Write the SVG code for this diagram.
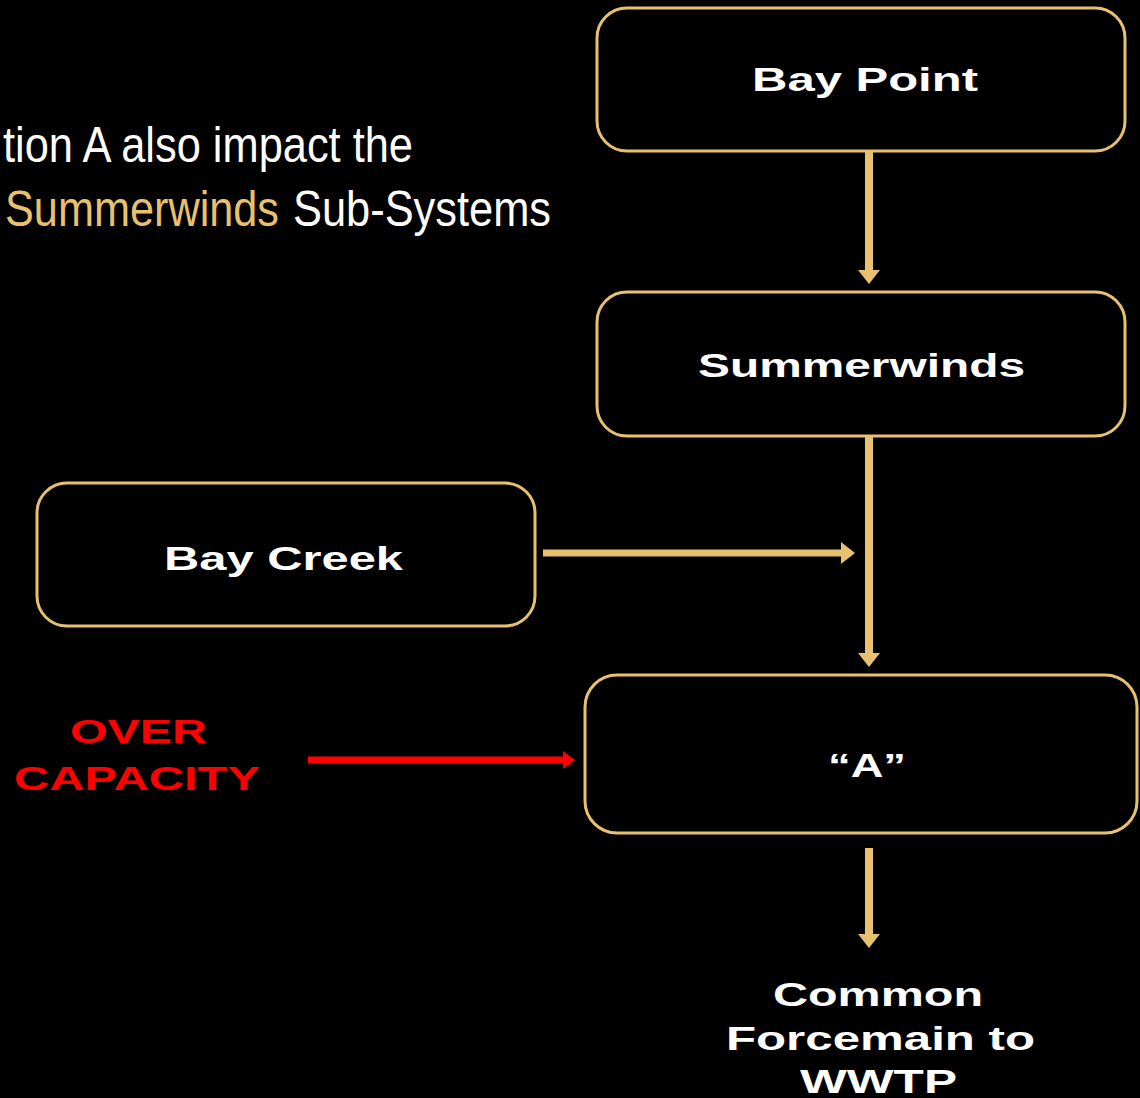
<svg xmlns="http://www.w3.org/2000/svg" width="1140" height="1098" viewBox="0 0 1140 1098">
<defs>
<style>
.box{fill:#000;stroke:#E8C170;stroke-width:3}
.lbl{font-family:"Liberation Sans",Arial,sans-serif;font-weight:bold;font-size:34px;fill:#fff;text-anchor:start}
.red{fill:#FF0000}
.head{font-family:"Liberation Sans Narrow","Liberation Sans",Arial,sans-serif;font-size:50px;fill:#fff}
.gold{fill:#E8C170}
.gl{stroke:#E8C170;fill:none}
</style>
<marker id="ag" markerUnits="userSpaceOnUse" markerWidth="30" markerHeight="30" refX="2" refY="14" orient="auto" viewBox="0 0 30 30">
<path d="M0,3 L14,14 L0,25 Z" fill="#E8C170"/>
</marker>
<marker id="ar" markerUnits="userSpaceOnUse" markerWidth="30" markerHeight="30" refX="2" refY="14" orient="auto" viewBox="0 0 30 30">
<path d="M0,5 L12,14 L0,23 Z" fill="#FF0000"/>
</marker>
</defs>
<rect width="1140" height="1098" fill="#000"/>
<g id="title">
<text class="head" x="3" y="162" textLength="410" lengthAdjust="spacingAndGlyphs">tion A also impact the</text>
<text class="head gold" x="5" y="226" textLength="274" lengthAdjust="spacingAndGlyphs">Summerwinds</text>
<text class="head" x="293" y="226" textLength="258" lengthAdjust="spacingAndGlyphs">Sub-Systems</text>
</g>
<g id="connectors">
<line class="gl" x1="869" y1="151" x2="869" y2="272" stroke-width="8" marker-end="url(#ag)"/>
<line class="gl" x1="869" y1="436" x2="869" y2="655" stroke-width="8" marker-end="url(#ag)"/>
<line class="gl" x1="543" y1="553" x2="843" y2="553" stroke-width="7" marker-end="url(#ag)"/>
<line class="gl" x1="869" y1="848" x2="869" y2="936" stroke-width="8" marker-end="url(#ag)"/>
<line x1="308" y1="760" x2="565" y2="760" stroke="#FF0000" stroke-width="7" marker-end="url(#ar)"/>
</g>
<g id="bay-point">
<rect class="box" x="597" y="8" width="528" height="143" rx="30"/>
<text class="lbl" x="752" y="91" textLength="226" lengthAdjust="spacingAndGlyphs">Bay Point</text>
</g>
<g id="summerwinds">
<rect class="box" x="597" y="292" width="528" height="144" rx="30"/>
<text class="lbl" x="698" y="377" textLength="327" lengthAdjust="spacingAndGlyphs">Summerwinds</text>
</g>
<g id="bay-creek">
<rect class="box" x="37" y="483" width="498" height="143" rx="30"/>
<text class="lbl" x="164" y="570" textLength="239" lengthAdjust="spacingAndGlyphs">Bay Creek</text>
</g>
<g id="a">
<rect class="box" x="585" y="675" width="552" height="158" rx="32"/>
<text class="lbl" x="828" y="777" textLength="78" lengthAdjust="spacingAndGlyphs">“A”</text>
</g>
<g id="over-capacity">
<text class="lbl red" x="70" y="743" textLength="137" lengthAdjust="spacingAndGlyphs">OVER</text>
<text class="lbl red" x="14" y="790" textLength="246" lengthAdjust="spacingAndGlyphs">CAPACITY</text>
</g>
<g id="common-forcemain">
<text class="lbl" x="773" y="1006" textLength="210" lengthAdjust="spacingAndGlyphs">Common</text>
<text class="lbl" x="726" y="1050" textLength="309" lengthAdjust="spacingAndGlyphs">Forcemain  to</text>
<text class="lbl" x="800" y="1093" textLength="157" lengthAdjust="spacingAndGlyphs">WWTP</text>
</g>
</svg>
